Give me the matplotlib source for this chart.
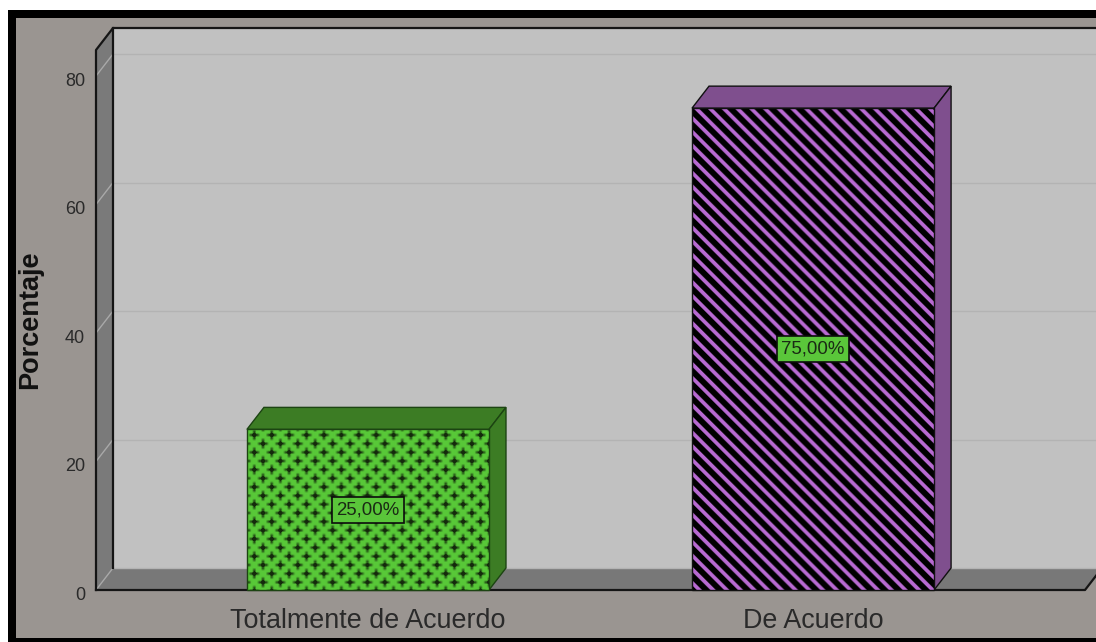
import matplotlib
matplotlib.use("Agg")
import matplotlib.pyplot as plt
from matplotlib.patches import Polygon, Rectangle
from matplotlib.transforms import ScaledTranslation
import numpy as np

plt.rcParams["font.family"] = ["Liberation Sans", "DejaVu Sans"]

categories = ["Totalmente de Acuerdo", "De Acuerdo"]
values = [25.0, 75.0]
yticks = [0, 20, 40, 60, 80]

W, H = 1096, 642
BG = "#9a9591"
WALL = "#c1c1c1"
SIDE = "#7a7a7a"
FLOOR = "#787878"
GRID = "#b3b3b3"
SPOKE = "#a9a9a9"

# depth of the 3D box, in data units
XMIN, XMAX = -0.611, 1.611
YMAX = 84.05
DX = 17 / 445
DY = 22 / 6.425
BAR_W = 242 / 445


def soft(v):
    return np.clip(v, 0, 1)


def cross_texture(w, h, base, dark):
    # staggered dark crosses on a green ground
    yy, xx = np.mgrid[0:h, 0:w] + 0.5
    p = 17.33
    amount = np.zeros((h, w))
    for ox, oy in [(0, 0), (p / 2, p / 2)]:
        u = np.abs((xx - 7.3 - ox + p / 2) % p - p / 2)
        v = np.abs((yy - 6 - oy + p / 2) % p - p / 2)
        arm = soft((2.2 - np.minimum(u, v)) / 1.8) * soft((6.0 - np.maximum(u, v)) / 2.5)
        core = soft((4.2 - (u + v)) / 1.8)
        amount = np.maximum(amount, np.maximum(arm * 0.72, core))
    amount = amount[..., None]
    return (1 - amount) * np.array(base) + amount * np.array(dark)


def stripe_texture(w, h, light, dark):
    # diagonal stripes running down to the right
    yy, xx = np.mgrid[0:h, 0:w] + 0.5
    period = 13.67
    s = np.abs((xx - yy + 3) % period - period / 2)
    amount = soft((3.4 - s) / 1.5)[..., None]
    return amount * np.array(light) + (1 - amount) * np.array(dark)


def rgb(name):
    return matplotlib.colors.to_rgb(name)


fig = plt.figure(figsize=(W / 100, H / 100), dpi=100, facecolor="white")

# outer frame, kept behind the axes
fig.add_artist(Rectangle((8 / W, 0), 1 - 8 / W, 1 - 10 / H, transform=fig.transFigure, fc="black", ec="none", zorder=-3))
fig.add_artist(Rectangle((16 / W, 4 / H), 1 - 16 / W, 1 - 22 / H, transform=fig.transFigure, fc=BG, ec="none", zorder=-2))

ax = fig.add_axes([96 / W, (H - 590) / H, (1085 - 96) / W, 540 / H])
ax.patch.set_visible(False)
for s in ax.spines.values():
    s.set_visible(False)
ax.set_xlim(XMIN, XMAX)
ax.set_ylim(0, YMAX)


def poly(pts, z, fc, ec="none", lw=0):
    ax.add_patch(Polygon(pts, closed=True, fc=fc, ec=ec, lw=lw, zorder=z, clip_on=False, joinstyle="miter"))


FAR = XMAX + 1
# back wall, left wall and floor
poly([(XMIN + DX, DY), (FAR, DY), (FAR, YMAX + DY), (XMIN + DX, YMAX + DY)], 1, WALL)
poly([(XMIN, 0), (XMIN + DX, DY), (XMIN + DX, YMAX + DY), (XMIN, YMAX)], 1, SIDE)
poly([(XMIN, 0), (XMAX, 0), (XMAX + DX, DY), (XMIN + DX, DY)], 1, FLOOR)

for t in yticks:
    ax.plot([XMIN + DX, FAR], [t + DY, t + DY], color=GRID, lw=1.0, zorder=2, clip_on=False)
    ax.plot([XMIN, XMIN + DX], [t, t + DY], color=SPOKE, lw=1.0, zorder=2, clip_on=False)

# box outline
ax.plot([XMIN, XMIN, XMIN + DX, FAR], [0, YMAX, YMAX + DY, YMAX + DY], color="#151515", lw=1.6, zorder=3, clip_on=False)
ax.plot([XMIN + DX, XMIN + DX], [DY, YMAX + DY], color="#151515", lw=1.6, zorder=3, clip_on=False)
ax.plot([XMIN, XMAX, XMAX + DX], [0, 0, DY], color="#151515", lw=1.6, zorder=3, clip_on=False)

styles = [
    dict(face="#58c838", shade="#3c7c24", edge="#1c4412", dark="#142a0c", tex=cross_texture),
    dict(face="#b86ad2", shade="#7f4f8e", edge="#111111", dark="#000000", tex=stripe_texture),
]

for i, (v, st) in enumerate(zip(values, styles)):
    x0, x1 = i - BAR_W / 2, i + BAR_W / 2
    poly([(x0, v), (x1, v), (x1 + DX, v + DY), (x0 + DX, v + DY)], 4, st["shade"], st["edge"], 1.0)
    poly([(x1, 0), (x1 + DX, DY), (x1 + DX, v + DY), (x1, v)], 4, st["shade"], st["edge"], 1.0)
    ax.bar(i, v, width=BAR_W, color=st["face"], edgecolor="none", zorder=4)
    w_px = int(round(BAR_W * 445))
    h_px = int(round(v * 6.425))
    ax.imshow(st["tex"](w_px, h_px, rgb(st["face"]), rgb(st["dark"])), extent=(x0, x1, 0, v),
              origin="upper", aspect="auto", interpolation="bilinear", zorder=5)
    ax.add_patch(Rectangle((x0, 0), BAR_W, v, fc="none", ec=st["edge"], lw=1.0, zorder=6, clip_on=False))
    ax.text(i, v / 2, f"{v:.2f}".replace(".", ",") + "%", ha="center", va="center", fontsize=13.4,
            color="#1a2a14", zorder=7,
            bbox=dict(boxstyle="square,pad=0.24", fc="#5ac63a", ec="#0c0c0c", lw=1.2))

# imshow resets the view limits
ax.set_xlim(XMIN, XMAX)
ax.set_ylim(0, YMAX)

ax.set_yticks(yticks)
ax.set_xticks(range(len(categories)))
ax.set_xticklabels(categories)
ax.tick_params(axis="y", length=0, pad=8, labelsize=13, labelcolor="#2a2a2a")
ax.tick_params(axis="x", length=0, pad=13, labelsize=19.4, labelcolor="#2a2a2a")
# value labels sit a little under their spokes
for lbl in ax.get_yticklabels():
    lbl.set_transform(lbl.get_transform() + ScaledTranslation(0, -3 / 100, fig.dpi_scale_trans))
ax.set_ylabel("Porcentaje", fontsize=19.5, fontweight="bold", color="#111111")
ax.yaxis.set_label_coords(-53 / 989, 0.5)

fig.savefig("out.png", dpi=100, facecolor=fig.get_facecolor())
